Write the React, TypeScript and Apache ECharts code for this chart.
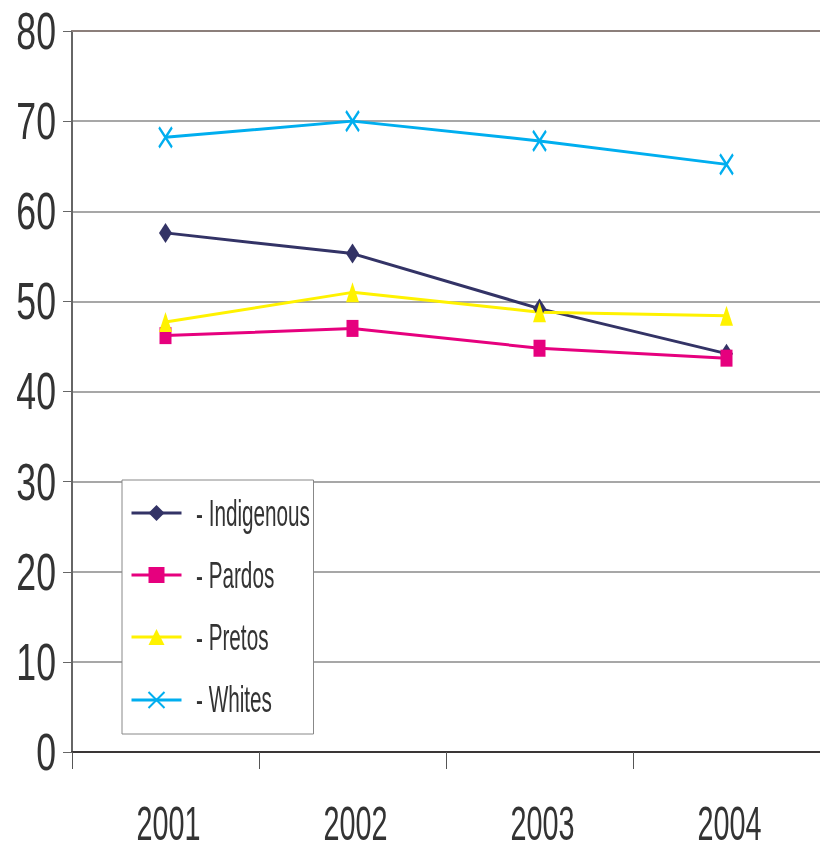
import React, { useEffect, useRef } from "react";
import * as echarts from "echarts";

const years = ["2001", "2002", "2003", "2004"];
const seriesNames = ["Indigenous", "Pardos", "Pretos", "Whites"];
const indigenous = [57.6, 55.3, 49.2, 44.2];
const pardos = [46.2, 47.0, 44.8, 43.7];
const pretos = [47.7, 51.0, 48.8, 48.4];
const whites = [68.2, 70.0, 67.8, 65.2];
const yTicks = [0, 10, 20, 30, 40, 50, 60, 70, 80];

const FONT = '"Liberation Sans", Arial, sans-serif';
const XPATH = "path://M0,0L12,20M12,0L0,20";

export default function App() {
  const ref = useRef<HTMLDivElement>(null);
  useEffect(() => {
    if (!ref.current) return;
    const chart = echarts.init(ref.current, null, { renderer: "svg" });
    const mk = (name: string, data: number[], color: string, symbol: string, size: number[]) => ({
      name,
      type: "line",
      data,
      symbol,
      symbolSize: size,
      lineStyle: { color, width: 3 },
      itemStyle: { color },
      z: 5,
    });
    chart.setOption({
      animation: false,
      textStyle: { fontFamily: FONT },
      grid: { left: 72, right: 0, top: 31, bottom: 100 },
      legend: {
        orient: "vertical",
        left: 122,
        top: 480,
        backgroundColor: "#fff",
        borderColor: "#888",
        borderWidth: 1,
        padding: [25, 127, 25, 8],
        itemWidth: 50,
        itemHeight: 20,
        itemGap: 46,
        lineStyle: { width: 3 },
        textStyle: { fontSize: 1, lineHeight: 1 },
        formatter: () => "",
        data: seriesNames,
      },
      xAxis: [
        {
          type: "category",
          data: years,
          boundaryGap: true,
          axisLine: { lineStyle: { color: "#3a3636", width: 2 } },
          axisTick: { show: true, length: 17, lineStyle: { color: "#555", width: 1 } },
          axisLabel: { show: false },
          splitLine: { show: false },
        },
        {
          type: "category",
          data: years,
          position: "top",
          axisLine: { show: true, lineStyle: { color: "#8c7f7b", width: 2 } },
          axisTick: { show: false },
          axisLabel: { show: false },
        },
      ],
      yAxis: {
        type: "value",
        min: 0,
        max: 80,
        interval: 10,
        axisLine: { show: true, lineStyle: { color: "#666", width: 2 } },
        axisTick: { show: true, length: 9, lineStyle: { color: "#666", width: 1 } },
        axisLabel: { show: false },
        splitLine: { show: true, lineStyle: { color: "#8a8a8a", width: 1.5 } },
      },
      series: [
        mk(seriesNames[0], indigenous, "#333366", "diamond", [13, 20]),
        mk(seriesNames[1], pardos, "#e6007e", "rect", [12, 17]),
        mk(seriesNames[2], pretos, "#fff200", "triangle", [13, 20]),
        {
          name: seriesNames[3],
          type: "line",
          data: whites,
          symbol: XPATH,
          symbolSize: [13, 20],
          lineStyle: { color: "#00aeef", width: 3 },
          itemStyle: { color: "#00aeef", borderColor: "#00aeef", borderWidth: 2.5 },
          z: 5,
        },
      ],
    });

    const graphics: any[] = [];
    yTicks.forEach((v) => {
      const py = chart.convertToPixel({ yAxisIndex: 0 }, v) as number;
      graphics.push({
        type: "text",
        x: 56,
        y: py,
        scaleX: 0.7,
        z: 100,
        style: { text: String(v), fontFamily: FONT, fontSize: 51, fill: "#333", align: "right", verticalAlign: "middle" },
      });
    });
    const axisY = chart.convertToPixel({ yAxisIndex: 0 }, 0) as number;
    years.forEach((yr) => {
      const px = chart.convertToPixel({ xAxisIndex: 0 }, yr) as number;
      graphics.push({
        type: "text",
        x: px + 3,
        y: axisY + 71,
        scaleX: 0.6,
        z: 100,
        style: { text: yr, fontFamily: FONT, fontSize: 48, fill: "#333", align: "center", verticalAlign: "middle" },
      });
    });
    seriesNames.forEach((n, i) => {
      graphics.push({
        type: "text",
        x: 196,
        y: 513 + i * 62,
        scaleX: 0.56,
        z: 100,
        style: { text: "- " + n, fontFamily: FONT, fontSize: 37, fill: "#333", align: "left", verticalAlign: "middle" },
      });
    });
    chart.setOption({ graphic: graphics });
    return () => chart.dispose();
  }, []);
  return <div ref={ref} style={{ position: "fixed", left: 0, top: 0, width: 820, height: 852 }} />;
}
